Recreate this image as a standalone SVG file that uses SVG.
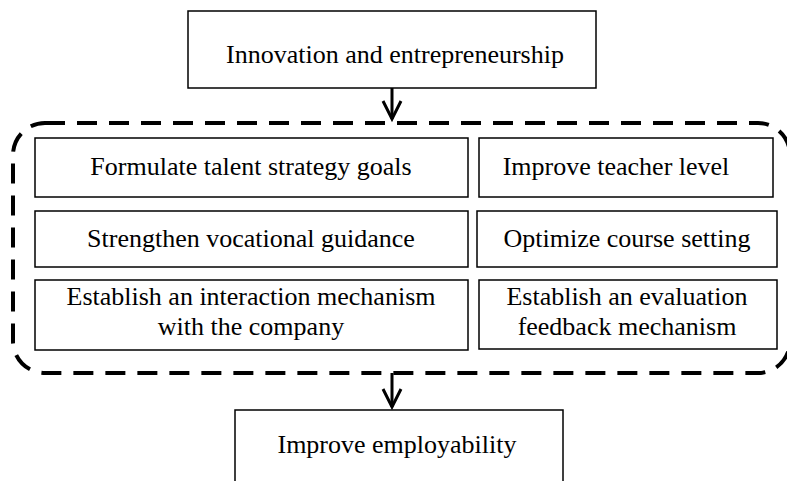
<svg xmlns="http://www.w3.org/2000/svg" width="787" height="481" viewBox="0 0 787 481">
  <style>
    .box { fill: #ffffff; stroke: #000000; stroke-width: 1.5; }
    .arrow { fill: none; stroke: #000000; stroke-width: 3; stroke-linecap: butt; stroke-linejoin: miter; }
    .group { fill: none; stroke: #000000; stroke-width: 4; stroke-dasharray: 20 12; }
  </style>
  <rect width="787" height="481" fill="#ffffff"/>
  <g id="container">
    <rect class="group" x="13" y="123" width="777" height="250" rx="32" ry="32"/>
  </g>
  <g id="connectors">
    <path class="arrow" d="M392 88 V119"/>
    <path class="arrow" d="M383 101 L392 119 L401 101"/>
    <path class="arrow" d="M392 373 V407"/>
    <path class="arrow" d="M383 389 L392 407 L401 389"/>
  </g>
  <g font-family="'Liberation Serif', 'Times New Roman', Times, serif" font-size="26" fill="#000000" text-anchor="middle">
  <g id="n-innovation">
    <rect class="box" x="188" y="11" width="408" height="77"/>
    <text x="395" y="63">Innovation and entrepreneurship</text>
  </g>
  <g id="n-formulate">
    <rect class="box" x="35" y="138" width="433" height="59"/>
    <text x="251" y="175">Formulate talent strategy goals</text>
  </g>
  <g id="n-teacher">
    <rect class="box" x="479" y="138" width="294" height="59"/>
    <text x="616" y="175">Improve teacher level</text>
  </g>
  <g id="n-vocational">
    <rect class="box" x="35" y="211" width="433" height="56"/>
    <text x="251" y="247">Strengthen vocational guidance</text>
  </g>
  <g id="n-course">
    <rect class="box" x="477" y="211" width="300" height="56"/>
    <text x="627" y="247">Optimize course setting</text>
  </g>
  <g id="n-interaction">
    <rect class="box" x="35" y="280" width="433" height="70"/>
    <text x="251" y="305">Establish an interaction mechanism</text>
    <text x="251" y="335">with the company</text>
  </g>
  <g id="n-evaluation">
    <rect class="box" x="479" y="280" width="298" height="69"/>
    <text x="627" y="305">Establish an evaluation</text>
    <text x="627" y="335">feedback mechanism</text>
  </g>
  <g id="n-employability">
    <rect class="box" x="235" y="410" width="328" height="90"/>
    <text x="397" y="453">Improve employability</text>
  </g>
  </g>
</svg>
